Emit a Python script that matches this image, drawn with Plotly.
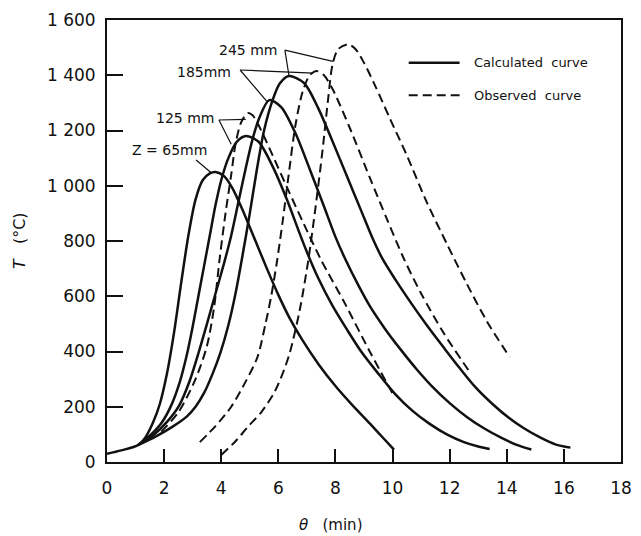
import plotly.graph_objects as go

# ---------------- data ----------------
x_ticks = [0, 2, 4, 6, 8, 10, 12, 14, 16, 18]
y_ticks = [0, 200, 400, 600, 800, 1000, 1200, 1400, 1600]
y_tick_text = ["0", "200", "400", "600", "800", "1 000", "1 200", "1 400", "1 600"]

# Calculated curves (solid): time θ (min) and temperature T (°C)
calc_65_t = [0, 0.5, 1.1, 1.35, 1.6, 1.85, 2.1, 2.35, 2.6, 2.85, 3.1, 3.35, 3.6, 3.8,
             4.1, 4.4, 4.8, 5.2, 5.6, 6.0, 6.4, 6.85, 7.4, 8.0, 8.6, 9.2, 9.6, 10.05]
calc_65_T = [30, 42, 62, 90, 140, 210, 320, 470, 650, 820, 950, 1020, 1045, 1050,
             1035, 990, 900, 800, 700, 605, 520, 440, 355, 275, 205, 140, 95, 45]

calc_125_t = [1.1, 1.5, 1.9, 2.25, 2.55, 2.8, 3.0, 3.2, 3.4, 3.6, 3.8, 4.0, 4.25, 4.55, 4.87,
              5.3, 5.8, 6.3, 6.7, 7.0, 7.4, 7.9, 8.4, 8.9, 9.5, 10.1, 10.7, 11.3, 11.9, 12.5, 13.0, 13.4]
calc_125_T = [62, 95, 140, 205, 290, 390, 490, 600, 710, 820, 930, 1020, 1100, 1160, 1180,
              1160, 1070, 950, 840, 760, 665, 565, 480, 400, 320, 245, 185, 138, 100, 72, 56, 47]

calc_185_t = [1.1, 1.6, 2.1, 2.53, 2.9, 3.22, 3.5, 3.8, 4.1, 4.35, 4.6, 4.85, 5.1, 5.35, 5.68,
              6.1, 6.6, 7.1, 7.6, 8.0, 8.36, 8.8, 9.2, 9.75, 10.3, 10.85, 11.4, 12.0, 12.6, 13.2, 13.8, 14.35, 14.86]
calc_185_T = [62, 95, 145, 205, 295, 400, 500, 610, 720, 820, 940, 1060, 1170, 1250, 1310,
              1285, 1190, 1060, 925, 815, 731, 640, 565, 480, 405, 335, 272, 213, 163, 122, 88, 62, 45]

calc_245_t = [1.1, 1.7, 2.3, 2.8, 3.1, 3.4, 3.7, 3.97, 4.25, 4.5, 4.75, 5.0, 5.25, 5.5, 5.8, 6.05, 6.37,
              6.9, 7.4, 7.9, 8.4, 8.9, 9.3, 9.65, 10.1, 10.65, 11.2, 11.78, 12.35, 12.9, 13.5, 14.07,
              14.6, 15.2, 15.7, 16.23]
calc_245_T = [62, 92, 128, 165, 200, 250, 320, 395, 495, 610, 750, 900, 1060, 1200, 1310, 1370, 1397,
              1372, 1280, 1160, 1035, 910, 810, 735, 660, 575, 495, 416, 340, 271, 210, 160,
              122, 87, 64, 52]

# Observed curves (dashed)
obs_125_t = [1.9, 2.5, 3.1, 3.5, 3.75, 3.95, 4.15, 4.35, 4.5, 4.7, 4.93, 5.1, 5.4, 5.8, 6.3,
             6.9, 7.5, 8.3, 9.2, 10.07]
obs_125_T = [110, 180, 300, 420, 560, 740, 900, 1040, 1150, 1230, 1263, 1255, 1200, 1110, 995,
             860, 731, 580, 400, 235]

obs_185_t = [3.25, 3.8, 4.35, 4.85, 5.27, 5.55, 5.75, 5.96, 6.15, 6.35, 6.6, 6.85, 7.1, 7.35,
             7.6, 7.9, 8.5, 9.2, 9.8, 10.4, 11.0, 11.8, 12.7]
obs_185_T = [72, 130, 200, 290, 380, 500, 600, 731, 870, 1030, 1220, 1340, 1400, 1415,
             1400, 1350, 1210, 1030, 880, 735, 610, 465, 326]

obs_245_t = [4.0, 4.5, 4.93, 5.4, 5.85, 6.15, 6.4, 6.75, 7.05, 7.3, 7.55, 7.75, 7.9, 8.1, 8.45,
             8.7, 9.0, 9.4, 9.9, 10.5, 11.2, 11.9, 12.6, 13.3, 14.1]
obs_245_T = [25, 75, 127, 180, 250, 320, 395, 550, 731, 920, 1130, 1320, 1440, 1495, 1512,
             1495, 1445, 1360, 1245, 1110, 940, 790, 645, 510, 380]

calc_series = [(calc_65_t, calc_65_T), (calc_125_t, calc_125_T),
               (calc_185_t, calc_185_T), (calc_245_t, calc_245_T)]
obs_series = [(obs_125_t, obs_125_T), (obs_185_t, obs_185_T), (obs_245_t, obs_245_T)]

curve_labels = ["Z = 65mm", "125 mm", "185mm", "245 mm"]

# ---------------- layout constants ----------------
FONT = "DejaVu Sans"
INK = "#111111"
label_pos = [(2.19, 1129), (2.72, 1245), (3.39, 1412), (4.93, 1491)]
leaders = [
    ((3.12, 1093), (3.66, 1046)),
    ((3.92, 1238), (4.35, 1150)),
    ((3.92, 1238), (4.86, 1240)),
    ((4.66, 1419), (5.62, 1303)),
    ((4.66, 1419), (7.23, 1408)),
    ((6.23, 1491), (6.37, 1400)),
    ((6.23, 1491), (7.91, 1450)),
]

fig = go.Figure()
for t, T in calc_series:
    fig.add_trace(go.Scatter(x=t, y=T, mode="lines", showlegend=False,
                             line=dict(color=INK, width=2.5, shape="spline", smoothing=0.8)))
for t, T in obs_series:
    fig.add_trace(go.Scatter(x=t, y=T, mode="lines", showlegend=False,
                             line=dict(color=INK, width=2, dash="9px,5px", shape="spline", smoothing=0.8)))

shapes = []
for (x0, y0), (x1, y1) in leaders:
    shapes.append(dict(type="line", xref="x", yref="y", x0=x0, y0=y0, x1=x1, y1=y1,
                       line=dict(color=INK, width=1.2)))
# legend samples
shapes.append(dict(type="line", xref="paper", yref="paper", x0=0.587, x1=0.686, y0=0.903, y1=0.903,
                   line=dict(color=INK, width=2.5)))
shapes.append(dict(type="line", xref="paper", yref="paper", x0=0.587, x1=0.686, y0=0.830, y1=0.830,
                   line=dict(color=INK, width=2, dash="9px,5px")))

annotations = []
for txt, (x, y) in zip(curve_labels, label_pos):
    annotations.append(dict(text=txt, x=x, y=y, xref="x", yref="y", showarrow=False,
                            font=dict(family=FONT, size=14, color=INK), xanchor="center", yanchor="middle"))
annotations.append(dict(text="Calculated  curve", x=0.71, y=0.903, xref="paper", yref="paper", showarrow=False,
                        font=dict(family=FONT, size=13, color=INK), xanchor="left", yanchor="middle"))
annotations.append(dict(text="Observed  curve", x=0.71, y=0.830, xref="paper", yref="paper", showarrow=False,
                        font=dict(family=FONT, size=13, color=INK), xanchor="left", yanchor="middle"))
annotations.append(dict(text="<i>θ</i>   (min)", x=0.434, y=-0.1425, xref="paper", yref="paper", showarrow=False,
                        font=dict(family=FONT, size=15, color=INK), xanchor="center", yanchor="middle"))
annotations.append(dict(text="<i>T</i>   (°C)", x=-0.171, y=0.5, xref="paper", yref="paper", showarrow=False,
                        textangle=-90, font=dict(family=FONT, size=16, color=INK),
                        xanchor="center", yanchor="middle"))

fig.update_layout(
    width=641, height=536,
    margin=dict(l=107, r=9, t=20, b=74),
    paper_bgcolor="white", plot_bgcolor="white",
    shapes=shapes, annotations=annotations, showlegend=False,
    font=dict(family=FONT, color=INK),
)
fig.update_xaxes(range=[0, 18], tickvals=x_ticks, ticks="inside", ticklen=13, tickwidth=2,
                 tickcolor=INK, showline=True, linecolor=INK, linewidth=2, mirror=True,
                 showgrid=False, zeroline=False, tickfont=dict(family=FONT, size=17, color=INK),
                 ticklabelstandoff=10)
fig.update_yaxes(range=[0, 1600], tickvals=y_ticks, ticktext=y_tick_text, ticks="inside", ticklen=16,
                 tickwidth=2, tickcolor=INK, showline=True, linecolor=INK, linewidth=2, mirror=True,
                 showgrid=False, zeroline=False, tickfont=dict(family=FONT, size=17, color=INK),
                 ticklabelstandoff=6)

fig.write_html("out.html")
